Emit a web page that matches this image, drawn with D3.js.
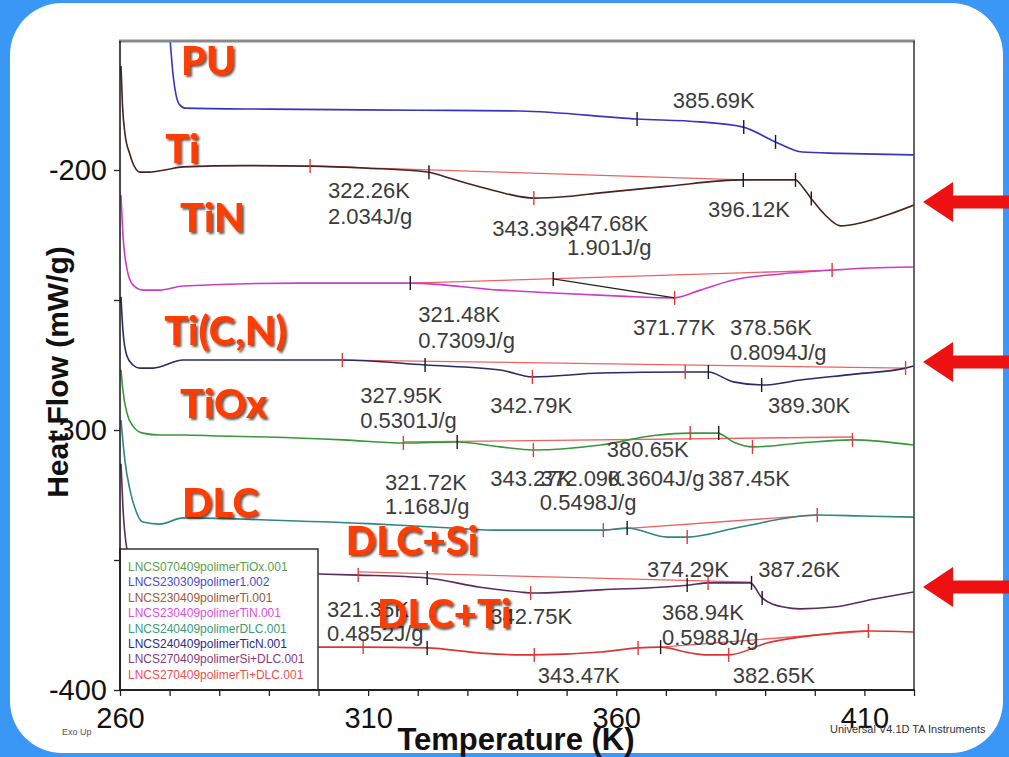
<!DOCTYPE html>
<html>
<head>
<meta charset="utf-8">
<script src="https://cdn.jsdelivr.net/npm/d3@7"></script>
<style>
  html, body { margin: 0; padding: 0; background: #3b97f6; }
  svg { display: block; }
</style>
</head>
<body>
<svg id="chart" width="1009" height="757"></svg>
<script>
// ---------- DSC heat-flow traces (temperature in K, heat flow in mW/g) ----------
const puT   = [270.1, 270.7, 271.3, 271.9, 273.1, 290.0, 320.0, 340.6, 364.2, 376.9, 385.6, 392.1, 397.5, 405.0, 419.9];
const puHF  = [-150.0, -163.5, -171.2, -174.6, -176.2, -176.6, -177.0, -177.3, -180.4, -181.5, -183.5, -189.2, -193.1, -193.6, -194.2];

const tiT   = [260.2, 260.5, 261.0, 262.0, 263.0, 264.0, 266.0, 269.0, 272.7, 285.0, 298.3, 310.0, 321.9, 327.0, 332.6, 338.0, 343.3, 350.0, 356.8, 370.0, 385.6, 396.1, 397.7, 399.5, 402.1, 405.2, 409.2, 415.2, 420.0];
const tiHF  = [-160.0, -175.0, -186.0, -194.0, -199.0, -200.8, -200.8, -200.0, -198.8, -198.3, -198.5, -199.3, -200.8, -203.5, -206.5, -209.2, -210.8, -210.2, -208.8, -206.3, -203.8, -203.8, -206.9, -211.5, -217.3, -221.5, -220.4, -216.9, -213.5];

const tinT  = [260.2, 260.6, 261.4, 262.6, 264.6, 268.0, 272.7, 296.3, 318.5, 336.6, 347.3, 360.8, 371.5, 376.9, 383.6, 393.1, 403.5, 411.2, 419.9];
const tinHF = [-209.6, -225.0, -238.0, -244.2, -246.2, -246.2, -244.6, -243.5, -243.5, -246.2, -247.3, -248.5, -249.2, -246.2, -242.3, -240.0, -238.5, -237.7, -237.3];

const ticnT  = [260.2, 260.6, 261.4, 262.6, 264.0, 266.7, 272.7, 290.0, 304.8, 321.5, 336.6, 343.1, 356.8, 373.9, 378.5, 383.6, 389.4, 397.1, 408.0, 418.3, 419.9];
const ticnHF = [-248.8, -262.0, -271.5, -275.0, -276.2, -276.2, -273.1, -273.1, -273.1, -275.0, -276.9, -279.6, -278.1, -277.7, -277.7, -281.5, -282.7, -280.8, -278.5, -276.2, -275.4];

const tioxT  = [260.2, 260.6, 261.4, 262.6, 264.6, 268.0, 272.7, 280.0, 289.6, 305.0, 317.1, 328.0, 336.6, 343.3, 356.8, 368.0, 374.9, 380.4, 383.6, 387.6, 397.1, 407.6, 419.9];
const tioxHF = [-276.9, -285.0, -293.5, -298.5, -301.2, -301.9, -301.9, -302.3, -302.7, -303.8, -305.0, -304.6, -306.5, -307.7, -305.8, -302.0, -301.2, -301.2, -304.6, -306.5, -305.0, -303.8, -305.8];

const dlcT   = [260.2, 261.0, 262.0, 263.0, 264.6, 268.0, 272.7, 289.6, 310.0, 323.1, 336.6, 357.4, 362.2, 370.3, 374.3, 385.0, 400.5, 410.0, 419.9];
const dlcHF  = [-296.2, -312.0, -323.0, -330.0, -335.4, -336.2, -333.8, -334.6, -336.0, -337.3, -338.5, -338.5, -337.7, -341.2, -341.2, -337.3, -332.7, -333.1, -333.5];

const dlcSiT  = [260.2, 260.6, 261.4, 262.6, 266.0, 276.1, 300.0, 308.0, 321.9, 332.6, 340.6, 343.1, 356.8, 374.9, 378.5, 385.0, 387.0, 389.4, 393.7, 397.1, 403.8, 412.0, 419.9];
const dlcSiHF = [-313.0, -330.0, -346.0, -353.0, -354.6, -355.0, -355.4, -355.8, -356.9, -360.5, -362.3, -362.7, -361.5, -359.6, -358.8, -358.8, -358.8, -364.6, -368.1, -368.8, -368.1, -365.0, -362.3];

const dlcTiT  = [260.2, 260.6, 261.4, 262.6, 264.0, 300.0, 309.0, 321.9, 332.6, 340.6, 343.3, 356.8, 364.4, 368.9, 375.0, 378.3, 382.6, 390.4, 400.5, 410.8, 419.9];
const dlcTiHF = [-350.0, -365.0, -377.0, -382.5, -383.5, -383.5, -383.5, -383.8, -385.8, -386.5, -386.5, -385.4, -383.8, -383.5, -385.8, -386.5, -386.5, -381.9, -378.8, -377.3, -377.7];

// integration baselines [[T0, HF0], [T1, HF1]]
const tiBase    = [[298.3, -198.5], [385.6, -203.8]];
const tinBase   = [[318.5, -243.5], [403.5, -238.5]];
const ticnBase  = [[304.8, -273.1], [418.3, -276.2]];
const tioxBase  = [[317.1, -304.6], [407.6, -302.7]];
const dlcBase   = [[357.4, -338.5], [400.5, -332.7]];
const dlcSiBase = [[308.0, -354.6], [387.26, -358.5]];
const dlcTiBase = [[368.94, -383.5], [410.8, -377.3]];
const tinPeakLine = [[347.3, -241.9], [371.77, -249.2]];

// analysis cursor marks [T, HF, kind]  (k = limit/peak cursor, r = baseline cursor)
const puMarks   = [[364.2, -180.4, 'k'], [385.69, -183.5, 'k'], [392.1, -189.2, 'k']];
const tiMarks   = [[298.3, -198.5, 'r'], [322.26, -200.9, 'k'], [343.39, -210.8, 'r'], [385.6, -203.8, 'k'], [396.12, -203.8, 'k'], [399.3, -211.0, 'k']];
const tinMarks  = [[318.5, -243.5, 'k'], [347.3, -241.9, 'k'], [371.77, -249.2, 'r'], [403.5, -238.5, 'r']];
const ticnMarks = [[304.8, -273.1, 'r'], [321.48, -275.0, 'k'], [343.1, -279.6, 'r'], [373.9, -277.7, 'r'], [378.56, -277.7, 'k'], [389.30, -282.7, 'k'], [418.3, -276.2, 'r']];
const tioxMarks = [[317.1, -305.0, 'r'], [327.95, -304.6, 'k'], [343.3, -307.7, 'r'], [374.9, -301.2, 'r'], [380.65, -301.2, 'k'], [387.45, -306.5, 'r'], [407.6, -303.8, 'r']];
const dlcMarks  = [[357.4, -338.5, 'r'], [362.2, -337.7, 'k'], [374.3, -341.2, 'r'], [400.5, -332.7, 'r']];
const dlcSiMarks = [[308.0, -355.8, 'r'], [321.9, -356.9, 'k'], [342.75, -362.7, 'r'], [374.29, -359.6, 'k'], [378.5, -358.8, 'r'], [387.26, -358.8, 'k'], [389.4, -364.6, 'k']];
const dlcTiMarks = [[309.0, -383.5, 'r'], [321.9, -383.8, 'k'], [343.47, -386.5, 'r'], [364.4, -383.8, 'r'], [368.94, -383.5, 'k'], [382.65, -386.5, 'r'], [410.8, -377.3, 'r']];

// result annotations [text, T, HF]
const annotations = [
  ['385.69K', 371.4, -176.2],
  ['322.26K', 301.9, -210.8], ['2.034J/g', 301.9, -220.8],
  ['343.39K', 335.0, -225.4], ['347.68K', 349.9, -223.5], ['1.901J/g', 350.1, -232.7],
  ['396.12K', 378.5, -218.1],
  ['321.48K', 320.1, -258.5], ['0.7309J/g', 320.1, -268.5],
  ['371.77K', 363.4, -263.5], ['378.56K', 382.9, -263.5], ['0.8094J/g', 382.9, -273.1],
  ['327.95K', 308.4, -289.6], ['0.5301J/g', 308.4, -299.2],
  ['342.79K', 334.6, -293.5], ['389.30K', 390.6, -293.5],
  ['380.65K', 358.1, -310.4],
  ['321.72K', 313.4, -323.1], ['1.168J/g', 313.4, -332.3],
  ['343.27K', 334.6, -321.5], ['372.09K', 344.8, -321.5], ['0.3604J/g', 358.3, -321.5], ['387.45K', 378.5, -321.5],
  ['0.5498J/g', 344.6, -330.8],
  ['374.29K', 366.2, -356.5], ['387.26K', 388.6, -356.5],
  ['321.35K', 301.7, -371.9], ['0.4852J/g', 301.7, -381.2],
  ['342.75K', 334.6, -374.6],
  ['368.94K', 369.2, -373.1], ['0.5988J/g', 369.2, -382.7],
  ['343.47K', 344.2, -397.3], ['382.65K', 383.5, -397.3]
];

// sample names [text, T, HF]
const sampleLabels = [
  ['PU', 272.3, -163.5], ['Ti', 269.1, -197.3], ['TiN', 272.1, -223.8],
  ['Ti(C,N)', 268.9, -267.3], ['TiOx', 272.1, -295.4], ['DLC', 272.5, -333.5],
  ['DLC+Si', 305.5, -348.1], ['DLC+Ti', 311.8, -376.2]
];

// highlighted traces (heat flow level at the right edge)
const arrowHF = [-212.3, -273.8, -360.4];

// data files
const legendNames = [
  'LNCS070409polimerTiOx.001', 'LNCS230309polimer1.002', 'LNCS230409polimerTi.001',
  'LNCS230409polimerTiN.001', 'LNCS240409polimerDLC.001', 'LNCS240409polimerTicN.001',
  'LNCS270409polimerSi+DLC.001', 'LNCS270409polimerTi+DLC.001'
];
const legendColors = ['#5aa050', '#4a4ad0', '#9a5a3a', '#e050e0', '#3a9a7a', '#2a2a8a', '#8a3a7a', '#f05050'];

const tempTicks = d3.range(260, 421, 10);
const heatTicks = [-200, -250, -300, -350, -400];

// ---------- drawing ----------
const W = 1009, H = 757;
const svg = d3.select('#chart');

const defs = svg.append('defs');
defs.append('clipPath').attr('id', 'plotClip')
  .append('rect').attr('x', 120).attr('y', 41).attr('width', 794).attr('height', 649);
const shadow = defs.append('filter').attr('id', 'shadow')
  .attr('x', '-10%').attr('y', '-10%').attr('width', '130%').attr('height', '140%');
shadow.append('feDropShadow').attr('dx', 2).attr('dy', 2).attr('stdDeviation', 1.2)
  .attr('flood-color', '#3a1a10').attr('flood-opacity', 0.75);

// blue frame with white rounded card
svg.append('rect').attr('width', W).attr('height', H).attr('fill', '#3b97f6');
svg.append('rect').attr('x', 10).attr('y', 3).attr('width', 993).attr('height', 750)
  .attr('rx', 52).attr('ry', 52).attr('fill', '#ffffff');

const x = d3.scaleLinear().domain([260, 420]).range([120, 914]);
const y = d3.scaleLinear().domain([-400, -150]).range([690, 40]);

const zip = (a, b) => a.map((v, i) => [v, b[i]]);
const series = [
  { T: puT, HF: puHF, color: '#3535bd', base: null, marks: puMarks },
  { T: tiT, HF: tiHF, color: '#4a2222', base: tiBase, marks: tiMarks },
  { T: tinT, HF: tinHF, color: '#cc3acc', base: tinBase, marks: tinMarks },
  { T: ticnT, HF: ticnHF, color: '#2b2b66', base: ticnBase, marks: ticnMarks },
  { T: tioxT, HF: tioxHF, color: '#3a963a', base: tioxBase, marks: tioxMarks },
  { T: dlcT, HF: dlcHF, color: '#2f8585', base: dlcBase, marks: dlcMarks },
  { T: dlcSiT, HF: dlcSiHF, color: '#5c2a5c', base: dlcSiBase, marks: dlcSiMarks },
  { T: dlcTiT, HF: dlcTiHF, color: '#dd3535', base: dlcTiBase, marks: dlcTiMarks }
];

const line = d3.line().x(d => x(d[0])).y(d => y(d[1])).curve(d3.curveMonotoneX);
const straight = d3.line().x(d => x(d[0])).y(d => y(d[1]));

const plot = svg.append('g').attr('clip-path', 'url(#plotClip)');

// baselines
series.filter(s => s.base).forEach(s => {
  plot.append('path').attr('d', straight(s.base))
    .attr('fill', 'none').attr('stroke', '#f06262').attr('stroke-width', 1.3);
});
// traces
series.forEach(s => {
  plot.append('path').attr('d', line(zip(s.T, s.HF)))
    .attr('fill', 'none').attr('stroke', s.color).attr('stroke-width', 1.6);
});
plot.append('path').attr('d', straight(tinPeakLine))
  .attr('fill', 'none').attr('stroke', '#222').attr('stroke-width', 1.3);
// cursor marks
series.forEach(s => {
  plot.selectAll(null).data(s.marks).enter().append('line')
    .attr('x1', d => x(d[0])).attr('x2', d => x(d[0]))
    .attr('y1', d => y(d[1]) - 7).attr('y2', d => y(d[1]) + 7)
    .attr('stroke', d => d[2] === 'r' ? '#e03a3a' : '#1a1a1a').attr('stroke-width', 1.4);
});

// annotations
svg.append('g').selectAll('text').data(annotations).enter().append('text')
  .attr('x', d => x(d[1])).attr('y', d => y(d[2]))
  .attr('font-family', '"Liberation Sans", Arial, sans-serif').attr('font-size', 22)
  .attr('fill', '#3c3c3c').text(d => d[0]);

// legend box (opaque, covers the traces behind it)
const legend = svg.append('g');
legend.append('rect').attr('x', 120).attr('y', 549).attr('width', 198).attr('height', 141)
  .attr('fill', '#ffffff').attr('stroke', '#333').attr('stroke-width', 1.5);
legend.selectAll('text').data(legendNames).enter().append('text')
  .attr('x', 128).attr('y', (d, i) => 571 + i * 15.4)
  .attr('font-family', '"Liberation Sans", Arial, sans-serif').attr('font-size', 12)
  .attr('fill', (d, i) => legendColors[i]).text(d => d);

// frame
svg.append('line').attr('x1', 119).attr('x2', 915).attr('y1', 41).attr('y2', 41)
  .attr('stroke', '#8a8a8a').attr('stroke-width', 3);
svg.append('line').attr('x1', 914).attr('x2', 914).attr('y1', 41).attr('y2', 690)
  .attr('stroke', '#333').attr('stroke-width', 1.5);
svg.append('line').attr('x1', 120).attr('x2', 120).attr('y1', 41).attr('y2', 690)
  .attr('stroke', '#111').attr('stroke-width', 1.5);
svg.append('line').attr('x1', 119).attr('x2', 915).attr('y1', 690).attr('y2', 690)
  .attr('stroke', '#222').attr('stroke-width', 2);

// axes
const xAxis = d3.axisBottom(x).tickValues(tempTicks).tickSize(6).tickPadding(11)
  .tickFormat(d => (d - 260) % 50 === 0 ? d : '');
const gx = svg.append('g').attr('transform', 'translate(0,690)').call(xAxis);
gx.select('.domain').remove();
gx.selectAll('line').attr('stroke', '#222').attr('stroke-width', 1.3);
gx.selectAll('text').attr('font-family', '"Liberation Sans", Arial, sans-serif')
  .attr('font-size', 29).attr('fill', '#111');

const yAxis = d3.axisLeft(y).tickValues(heatTicks).tickSize(6).tickPadding(7)
  .tickFormat(d => d % 100 === 0 ? String(d) : '');
const gy = svg.append('g').attr('transform', 'translate(120,0)').call(yAxis);
gy.select('.domain').remove();
gy.selectAll('line').attr('stroke', '#222').attr('stroke-width', 1.3);
gy.selectAll('text').attr('font-family', '"Liberation Sans", Arial, sans-serif')
  .attr('font-size', 29).attr('fill', '#111');

// axis titles
svg.append('text').attr('transform', 'translate(68,372) rotate(-90)')
  .attr('text-anchor', 'middle').attr('font-family', '"Liberation Sans", Arial, sans-serif')
  .attr('font-weight', 'bold').attr('font-size', 30).attr('fill', '#111')
  .text('Heat Flow (mW/g)');
svg.append('text').attr('x', 516).attr('y', 750)
  .attr('text-anchor', 'middle').attr('font-family', '"Liberation Sans", Arial, sans-serif')
  .attr('font-weight', 'bold').attr('font-size', 31).attr('fill', '#111')
  .text('Temperature (K)');

svg.append('text').attr('x', 62).attr('y', 735).attr('font-family', '"Liberation Sans", Arial, sans-serif')
  .attr('font-size', 9).attr('fill', '#555').text('Exo Up');
svg.append('text').attr('x', 830).attr('y', 733).attr('font-family', '"Liberation Sans", Arial, sans-serif')
  .attr('font-size', 11).attr('fill', '#333').text('Universal V4.1D TA Instruments');

// sample names
svg.append('g').selectAll('text').data(sampleLabels).enter().append('text')
  .attr('x', d => x(d[1])).attr('y', d => y(d[2]))
  .attr('font-family', 'Lato, "Open Sans", sans-serif').attr('font-weight', 900)
  .attr('font-size', 40).attr('fill', '#ff3c00').attr('filter', 'url(#shadow)')
  .text(d => d[0]);

// arrows pointing at the highlighted traces
const arrowPath = cy => {
  const tip = 923, back = 953, end = 1012, hh = 20, sh = 6.5;
  return `M${tip},${cy} L${back},${cy - hh} L${back},${cy - sh} L${end},${cy - sh} L${end},${cy + sh} L${back},${cy + sh} L${back},${cy + hh} Z`;
};
svg.append('g').selectAll('path').data(arrowHF).enter().append('path')
  .attr('d', d => arrowPath(y(d))).attr('fill', '#ee1111');
</script>
</body>
</html>
